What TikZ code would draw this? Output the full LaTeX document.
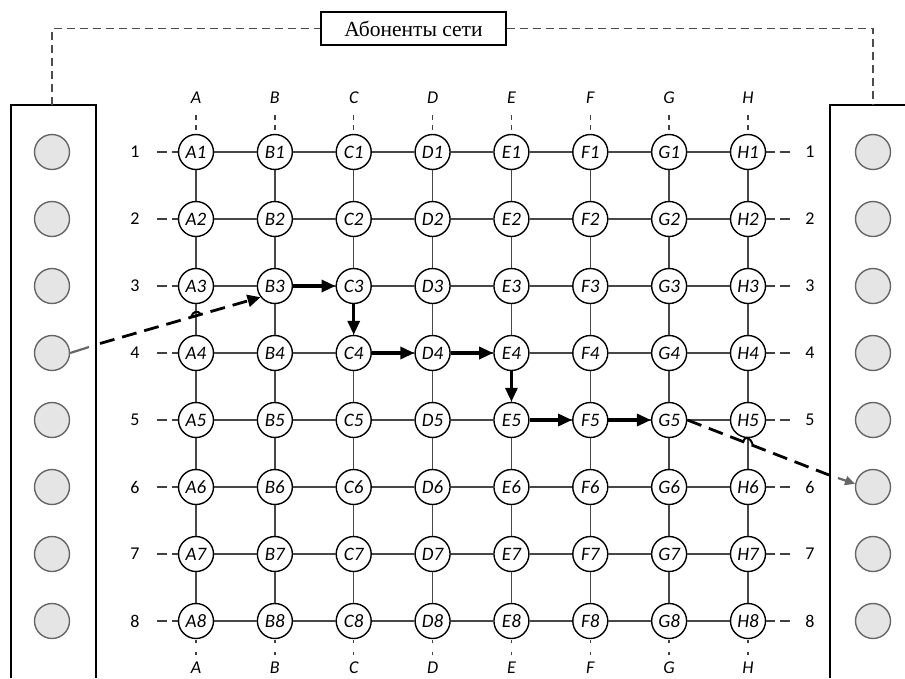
\documentclass[tikz,border=0pt]{standalone}
\usepackage{fontspec}
\setmainfont{Carlito}
\newfontfamily\titlefont{Liberation Serif}
\usetikzlibrary{arrows.meta}
\begin{document}
\begin{tikzpicture}[x=1pt,y=-1pt,
  gnode/.style={circle,draw=black,line width=1.4pt,fill=white,minimum size=35pt,inner sep=0pt,font=\fontsize{19}{21}\selectfont\itshape},
  term/.style={circle,draw=black!60,line width=1.4pt,fill=black!10,minimum size=35pt,inner sep=0pt},
  gline/.style={draw=black!72,line width=1.4pt},
  panel/.style={draw=black,line width=1.1pt},
  lbl/.style={inner sep=0pt,font=\fontsize{18}{20}\selectfont},
  clbl/.style={inner sep=0pt,font=\fontsize{18}{20}\selectfont\itshape},
  rtick/.style={draw=black!75,line width=1.3pt,dash pattern=on 10pt off 5pt},
  ttick/.style={draw=black!75,line width=1.3pt,dash pattern=on 5pt off 5pt},
  btick/.style={draw=black!75,line width=1.3pt,dash pattern=on 3pt off 9pt},
  route/.style={draw=black,line width=3.2pt,-{Triangle[length=14pt,width=12pt]}},
  jump/.style={draw=black,line width=2.8pt,dash pattern=on 15pt off 8pt},
  jumpgray/.style={draw=black!60,line width=2.2pt},
  hop/.style={draw=black,line width=2pt},
  topdash/.style={draw=black!70,line width=1.1pt,dash pattern=on 8pt off 5pt},
  titlebox/.style={draw=black,line width=1.1pt,fill=white,minimum width=185pt,minimum height=33pt,inner sep=0pt,font=\titlefont\fontsize{21.5}{23}\selectfont}
]
\useasboundingbox (0,0) rectangle (905,678);

% panels
\draw[panel] (11,678) -- (11,105) -- (96,105) -- (96,678);
\draw[panel] (830,678) -- (830,105) -- (905,105);

% title and top dashed line
\node[titlebox] (title) at (413.5,28.5) {Абоненты сети};
\coordinate (ltop) at (52,105);
\coordinate (rtop) at (873,105);
\draw[topdash] (ltop) |- (title.west);
\draw[topdash] (title.east) -| (rtop);

% terminals
\foreach \r in {1,...,8}{
  \node[term] (L\r) at (52,{152+67*(\r-1)}) {};
  \node[term] (R\r) at (873,{152+67*(\r-1)}) {};
}

% grid nodes
\foreach \c [count=\ci from 0] in {A,B,C,D,E,F,G,H}{
  \foreach \r in {1,...,8}{
    \node[gnode] (\c\r) at ({196+78.857*\ci},{152+67*(\r-1)}) {\c\r};
  }
  \node[clbl] (top\c) at ({196+78.857*\ci},98) {\c};
  \node[clbl] (bot\c) at ({196+78.857*\ci},668) {\c};
  \coordinate (tt\c) at ({196+78.857*\ci},115);
  \coordinate (bt\c) at ({196+78.857*\ci},655);
  \draw[ttick] (tt\c) -- (\c1);
  \draw[btick] (bt\c) -- (\c8);
}

% row labels
\foreach \r in {1,...,8}{
  \node[lbl] (lrow\r) at (135,{152+67*(\r-1)}) {\r};
  \node[lbl] (rrow\r) at (810,{152+67*(\r-1)}) {\r};
  \coordinate (lt\r) at (157,{152+67*(\r-1)});
  \coordinate (rt\r) at (790,{152+67*(\r-1)});
  \draw[rtick] (lt\r) -- (A\r);
  \draw[rtick] (rt\r) -- (H\r);
}

% grid lines
\foreach \a/\b in {A/B,B/C,C/D,D/E,E/F,F/G,G/H}{
  \foreach \r in {1,...,8}{
    \draw[gline] (\a\r) -- (\b\r);
  }
}
\foreach \c in {A,B,C,D,E,F,G,H}{
  \foreach \r/\s in {1/2,2/3,3/4,4/5,5/6,6/7,7/8}{
    \draw[gline] (\c\r) -- (\c\s);
  }
}

% route
\draw[route] (B3) -- (C3);
\draw[route] (C3) -- (C4);
\draw[route] (C4) -- (D4);
\draw[route] (D4) -- (E4);
\draw[route] (E4) -- (E5);
\draw[route] (E5) -- (F5);
\draw[route] (F5) -- (G5);

% entry from left subscriber
\coordinate (lcut) at (89,347);
\coordinate (lgo) at (100,343.5);
\draw[jumpgray] (L4.east) -- (lcut);
\draw[jump,-{Triangle[length=13pt,width=12pt]}] (lgo) -- (B3.218);
\draw[hop] (191,317) .. controls (193,311) and (198,310) .. (201,314.5);

% exit to right subscriber
\coordinate (rcut) at (829,475);
\coordinate (rgo) at (838,478);
\draw[jump] (G5.east) -- (rcut);
\draw[jumpgray,-{Triangle[length=10pt,width=9pt]}] (rgo) -- (R6.170);
\draw[hop] (743,441.5) .. controls (745,436) and (750,436) .. (753,445.5);
\end{tikzpicture}
\end{document}
